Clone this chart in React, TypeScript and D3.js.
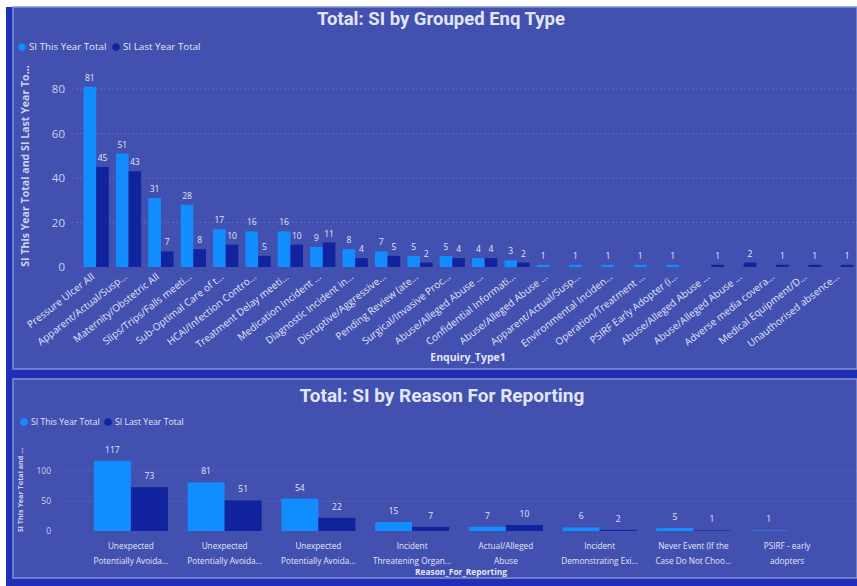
import React from "react";
import * as d3 from "d3";

const W = 857;
const H = 586;

const topCategories = [
  "Pressure Ulcer All",
  "Apparent/Actual/Susp...",
  "Maternity/Obstetric All",
  "Slips/Trips/Falls meeti...",
  "Sub-Optimal Care of t...",
  "HCAI/Infection Contro...",
  "Treatment Delay meeti...",
  "Medication Incident ...",
  "Diagnostic Incident in...",
  "Disruptive/Aggressive...",
  "Pending Review (ate...",
  "Surgical/Invasive Proc...",
  "Abuse/Alleged Abuse ...",
  "Confidential Informati...",
  "Abuse/Alleged Abuse ...",
  "Apparent/Actual/Susp...",
  "Environmental Inciden...",
  "Operation/Treatment ...",
  "PSIRF Early Adopter (i...",
  "Abuse/Alleged Abuse ...",
  "Abuse/Alleged Abuse ...",
  "Adverse media covera...",
  "Medical Equipment/D...",
  "Unauthorised absence...",
];
const topThisYear: (number | null)[] = [81, 51, 31, 28, 17, 16, 16, 9, 8, 7, 5, 5, 4, 3, 1, 1, 1, 1, 1, null, null, null, null, null];
const topLastYear: (number | null)[] = [45, 43, 7, 8, 10, 5, 10, 11, 4, 5, 2, 4, 4, 2, null, null, null, null, null, 1, 2, 1, 1, 1];
const topTicks = [0, 20, 40, 60, 80];

const botCategories = [
  ["Unexpected", "Potentially Avoida..."],
  ["Unexpected", "Potentially Avoida..."],
  ["Unexpected", "Potentially Avoida..."],
  ["Incident", "Threatening Organ..."],
  ["Actual/Alleged", "Abuse"],
  ["Incident", "Demonstrating Exi..."],
  ["Never Event (If the", "Case Do Not Choo..."],
  ["PSIRF - early", "adopters"],
];
const botThisYear: (number | null)[] = [117, 81, 54, 15, 7, 6, 5, 1];
const botLastYear: (number | null)[] = [73, 51, 22, 7, 10, 2, 1, null];
const botTicks = [0, 50, 100];

const seriesNames = ["SI This Year Total", "SI Last Year Total"];
const seriesKeys = ["this", "last"];
const COLORS = ["#118DFF", "#12239E"];

const PANEL = "#4250b0";
const FRAME = "#1f30b4";
const BORDER = "#8690d6";
const TXT = "#e3e6f7";
const TICK = "#cdd1ee";
const FONT = "'Open Sans', 'Liberation Sans', sans-serif";
const TITLE_FONT = "Roboto, 'Open Sans', sans-serif";

function Legend({ y, x0, x1, fs }: { y: number; x0: number; x1: number; fs: number }) {
  const xs = [x0, x1];
  return (
    <g>
      {seriesNames.map((n, i) => (
        <g key={n}>
          <circle cx={xs[i]} cy={y} r={3.8} fill={COLORS[i]} />
          <text x={xs[i] + 7} y={y + 3.2} fontSize={fs} fill={TXT} fontFamily={FONT}>
            {n}
          </text>
        </g>
      ))}
    </g>
  );
}

function TopChart() {
  const x = d3.scaleBand<number>().domain(d3.range(topCategories.length)).range([80, 857]).paddingInner(0.22).paddingOuter(0.11);
  const sub = d3.scaleBand<string>().domain(seriesKeys).range([0, x.bandwidth()]);
  const y = d3.scaleLinear().domain([0, 80]).range([267, 89]);
  const series = [topThisYear, topLastYear];
  return (
    <g>
      <text x={441} y={25} textAnchor="middle" fontSize={18.5} fontWeight="bold" fill={TXT} fontFamily={TITLE_FONT}>
        Total: SI by Grouped Enq Type
      </text>
      <Legend y={47} x0={22} x1={116} fs={9.8} />
      {topTicks.map((t) => (
        <g key={t}>
          {t > 0 && (
            <line x1={72} x2={857} y1={y(t)} y2={y(t)} stroke="#ffffff" strokeOpacity={0.14} strokeDasharray="2,2" />
          )}
          <text x={65} y={y(t) + 4} textAnchor="end" fontSize={11.5} fill={TICK} fontFamily={FONT}>
            {t}
          </text>
        </g>
      ))}
      <text
        transform={`translate(29,166) rotate(-90)`}
        textAnchor="middle"
        fontSize={10.6}
        fontWeight="bold"
        fill={TICK}
        fontFamily={FONT}
      >
        SI This Year Total and SI Last Year To...
      </text>
      {series.map((vals, si) =>
        vals.map((v, i) =>
          v == null ? null : (
            <g key={`${si}-${i}`}>
              <rect
                x={(x(i) as number) + (sub(seriesKeys[si]) as number)}
                y={y(v)}
                width={sub.bandwidth()}
                height={y(0) - y(v)}
                fill={COLORS[si]}
              />
              <text
                x={(x(i) as number) + (sub(seriesKeys[si]) as number) + sub.bandwidth() / 2}
                y={y(v) - 6}
                textAnchor="middle"
                fontSize={8.5}
                fill={TXT}
                fontFamily={FONT}
              >
                {v}
              </text>
            </g>
          )
        )
      )}
      {topCategories.map((c, i) => (
        <text
          key={i}
          transform={`translate(${(x(i) as number) + x.bandwidth() / 2 - 1},${278}) rotate(-38)`}
          textAnchor="end"
          fontSize={10}
          fill={TXT}
          fontFamily={FONT}
        >
          {c}
        </text>
      ))}
      <text x={468} y={361} textAnchor="middle" fontSize={10.5} fontWeight="bold" fill={TXT} fontFamily={FONT}>
        Enquiry_Type1
      </text>
    </g>
  );
}

function BottomChart() {
  const x = d3.scaleBand<number>().domain(d3.range(botCategories.length)).range([84, 834]).paddingInner(0.21).paddingOuter(0.105);
  const sub = d3.scaleBand<string>().domain(seriesKeys).range([0, x.bandwidth()]);
  const y = d3.scaleLinear().domain([0, 100]).range([531, 471]);
  const series = [botThisYear, botLastYear];
  return (
    <g>
      <text x={442} y={402} textAnchor="middle" fontSize={19} fontWeight="bold" fill={TXT} fontFamily={TITLE_FONT}>
        Total: SI by Reason For Reporting
      </text>
      <Legend y={422} x0={24} x1={108} fs={8.7} />
      {botTicks.map((t) => (
        <g key={t}>
          {t > 0 && (
            <line x1={60} x2={857} y1={y(t)} y2={y(t)} stroke="#ffffff" strokeOpacity={0.1} strokeDasharray="2,2" />
          )}
          <text x={51} y={y(t) + 3} textAnchor="end" fontSize={8.5} fill={TICK} fontFamily={FONT}>
            {t}
          </text>
        </g>
      ))}
      <text
        transform={`translate(23,490) rotate(-90)`}
        textAnchor="middle"
        fontSize={7.2}
        fontWeight="bold"
        fill={TICK}
        fontFamily={FONT}
      >
        SI This Year Total and ...
      </text>
      {series.map((vals, si) =>
        vals.map((v, i) =>
          v == null ? null : (
            <g key={`${si}-${i}`}>
              <rect
                x={(x(i) as number) + (sub(seriesKeys[si]) as number)}
                y={y(v)}
                width={sub.bandwidth()}
                height={y(0) - y(v)}
                fill={COLORS[si]}
              />
              <text
                x={(x(i) as number) + (sub(seriesKeys[si]) as number) + sub.bandwidth() / 2}
                y={y(v) - 8}
                textAnchor="middle"
                fontSize={8.5}
                fill={TXT}
                fontFamily={FONT}
              >
                {v}
              </text>
            </g>
          )
        )
      )}
      {botCategories.map((lines, i) => (
        <text
          key={i}
          x={(x(i) as number) + x.bandwidth() / 2}
          y={549}
          textAnchor="middle"
          fontSize={8.2}
          fill={TXT}
          fontFamily={FONT}
        >
          {lines.map((l, j) => (
            <tspan key={j} x={(x(i) as number) + x.bandwidth() / 2} dy={j === 0 ? 0 : 15}>
              {l}
            </tspan>
          ))}
        </text>
      ))}
      <text x={461} y={575} textAnchor="middle" fontSize={8.4} fontWeight="bold" fill={TXT} fontFamily={FONT}>
        Reason_For_Reporting
      </text>
    </g>
  );
}

export default function App() {
  return (
    <svg
      width={W}
      height={H}
      viewBox={`0 0 ${W} ${H}`}
      style={{ position: "fixed", left: 0, top: 0, display: "block" }}
    >
      <rect x={0} y={0} width={W} height={H} fill="#ffffff" />
      <rect x={6} y={7} width={W - 6} height={H - 7} fill={FRAME} />
      <rect x={13} y={7} width={W - 13} height={362} fill={PANEL} stroke={BORDER} strokeWidth={1.5} />
      <rect x={13} y={379} width={W - 13} height={199} fill={PANEL} stroke={BORDER} strokeWidth={1.5} />
      <TopChart />
      <BottomChart />
    </svg>
  );
}
